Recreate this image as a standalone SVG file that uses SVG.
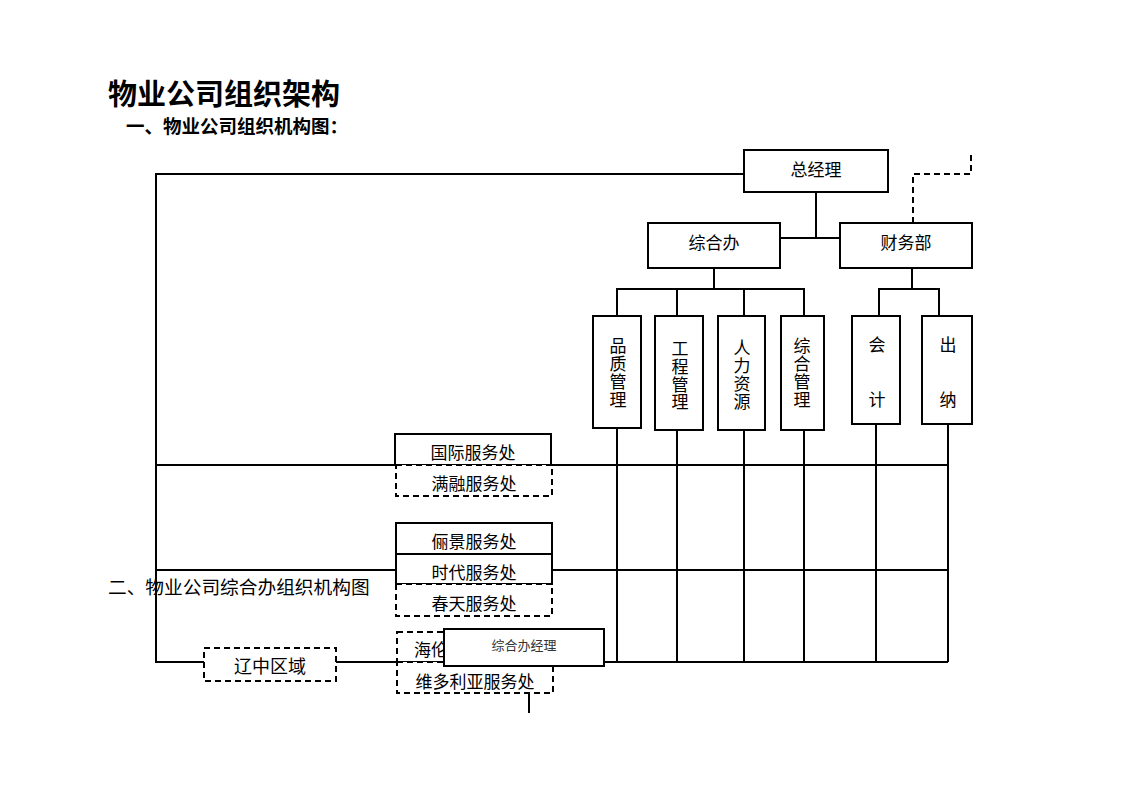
<svg xmlns="http://www.w3.org/2000/svg" width="1122" height="793" viewBox="0 0 1122 793">
<style>
  .ln { stroke: #000; stroke-width: 2; fill: none; }
  .dl { stroke: #000; stroke-width: 2; fill: none; stroke-dasharray: 6,4; }
  .bx { stroke: #000; stroke-width: 2; fill: #fff; }
  .db { stroke: #000; stroke-width: 2; fill: #fff; stroke-dasharray: 6,4; }
  text { font-family: "Noto Sans CJK SC", "Noto Sans", sans-serif; fill: #000; dominant-baseline: central; }
  .t { font-size: 17px; text-anchor: middle; }
</style>
<rect width="1122" height="793" fill="#fff"/>
<text x="108" y="92" style="font-size:29px;font-weight:bold">物业公司组织架构</text>
<text x="126" y="125" style="font-size:18.5px;font-weight:bold">一、物业公司组织机构图：</text>
<text x="108" y="585" style="font-size:18.7px">二、物业公司综合办组织机构图</text>

<g id="connectors">
  <polyline class="ln" points="744,174 156,174 156,662 948,662"/>
  <line class="ln" x1="156" y1="465" x2="948" y2="465"/>
  <line class="ln" x1="156" y1="570" x2="948" y2="570"/>
  <polyline class="dl" points="913,223 913,174 971,174 971,154"/>
  <line class="ln" x1="816" y1="192" x2="816" y2="238"/>
  <line class="ln" x1="780" y1="238" x2="840" y2="238"/>
  <line class="ln" x1="714" y1="268" x2="714" y2="289"/>
  <polyline class="ln" points="617,315 617,289 804,289 804,315"/>
  <line class="ln" x1="677" y1="289" x2="677" y2="315"/>
  <line class="ln" x1="744" y1="289" x2="744" y2="315"/>
  <line class="ln" x1="912" y1="268" x2="912" y2="289"/>
  <polyline class="ln" points="879,316 879,289 939,289 939,316"/>
  <line class="ln" x1="617" y1="428" x2="617" y2="662"/>
  <line class="ln" x1="677" y1="430" x2="677" y2="662"/>
  <line class="ln" x1="744" y1="430" x2="744" y2="662"/>
  <line class="ln" x1="804" y1="430" x2="804" y2="662"/>
  <line class="ln" x1="876" y1="424" x2="876" y2="662"/>
  <line class="ln" x1="948" y1="424" x2="948" y2="662"/>
  <line class="ln" x1="529" y1="666" x2="529" y2="713"/>
</g>

<g id="gm"><rect class="bx" x="744" y="150" width="144" height="42"/><text class="t" x="816" y="168">总经理</text></g>
<g id="zhb"><rect class="bx" x="648" y="223" width="132" height="45"/><text class="t" x="714" y="241">综合办</text></g>
<g id="cwb"><rect class="bx" x="840" y="223" width="132" height="45"/><text class="t" x="906" y="241">财务部</text></g>

<g id="pzgl"><rect class="bx" x="593" y="316" width="48" height="112"/>
  <text class="t" x="618" y="344">品</text><text class="t" x="618" y="362">质</text><text class="t" x="618" y="380">管</text><text class="t" x="618" y="398">理</text></g>
<g id="gcgl"><rect class="bx" x="655" y="316" width="48" height="114"/>
  <text class="t" x="680" y="347">工</text><text class="t" x="680" y="365">程</text><text class="t" x="680" y="383">管</text><text class="t" x="680" y="400">理</text></g>
<g id="rlzy"><rect class="bx" x="718" y="316" width="47" height="114"/>
  <text class="t" x="742" y="346">人</text><text class="t" x="742" y="364">力</text><text class="t" x="742" y="382">资</text><text class="t" x="742" y="400">源</text></g>
<g id="zhgl"><rect class="bx" x="781" y="316" width="43" height="114"/>
  <text class="t" x="802" y="344">综</text><text class="t" x="802" y="362">合</text><text class="t" x="802" y="380">管</text><text class="t" x="802" y="398">理</text></g>
<g id="kj"><rect class="bx" x="852" y="316" width="48" height="108"/>
  <text class="t" x="877" y="343">会</text><text class="t" x="877" y="398">计</text></g>
<g id="cn"><rect class="bx" x="922" y="316" width="50" height="108"/>
  <text class="t" x="948" y="343">出</text><text class="t" x="948" y="398">纳</text></g>

<g id="gj"><rect class="bx" x="395" y="434" width="156" height="31"/><text class="t" x="473" y="451">国际服务处</text></g>
<g id="mr"><rect class="db" x="396" y="465" width="156" height="31"/><text class="t" x="474" y="482">满融服务处</text></g>
<g id="lj"><rect class="bx" x="396" y="523" width="156" height="31"/><text class="t" x="474" y="540">俪景服务处</text></g>
<g id="sd"><rect class="bx" x="396" y="554" width="156" height="30"/><text class="t" x="474" y="571">时代服务处</text></g>
<g id="ct"><rect class="db" x="396" y="584" width="156" height="32"/><text class="t" x="474" y="602">春天服务处</text></g>
<g id="lz"><rect class="db" x="204" y="648" width="132" height="33"/><text class="t" x="270" y="665" style="font-size:18px">辽中区域</text></g>
<g id="hl"><rect class="db" x="397" y="632" width="156" height="30"/><text x="414" y="648" style="font-size:17px">海伦</text></g>
<g id="dwly"><rect class="db" x="397" y="662" width="156" height="31"/><text class="t" x="475" y="680">维多利亚服务处</text></g>
<g id="zhbjl"><rect class="bx" x="444" y="629" width="160" height="37"/><text class="t" x="524" y="644" style="font-size:13px;fill:#333">综合办经理</text></g>
</svg>
